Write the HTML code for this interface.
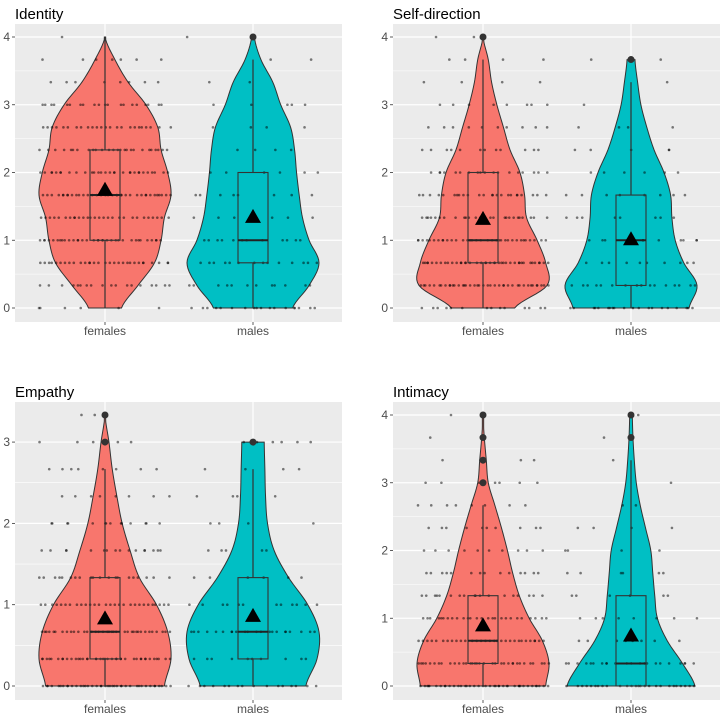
<!DOCTYPE html>
<html><head><meta charset="utf-8">
<style>
html,body{margin:0;padding:0;background:#fff;}
svg{display:block;font-family:"Liberation Sans",Arial,sans-serif;}
</style></head>
<body>
<svg id="chart" width="720" height="718" viewBox="0 0 720 718" xmlns="http://www.w3.org/2000/svg"></svg>
<script>
// ---- data ----
const panelTitles = ["Identity","Self-direction","Empathy","Intimacy"];
const groups = ["females","males"];
const yMaxes = [4,4,3.333,4];
const yTicks = [[0,1,2,3,4],[0,1,2,3,4],[0,1,2,3],[0,1,2,3,4]];
// violin relative half-widths at levels 0,1/3,2/3,...
const violinF = [
 [0.25,0.5,0.75,0.85,0.9,1.0,0.95,0.85,0.8,0.62,0.35,0.15,0.0],
 [0.48,0.97,0.95,0.82,0.66,0.63,0.56,0.41,0.31,0.21,0.13,0.08,0.0],
 [0.9,1.0,0.95,0.78,0.52,0.38,0.26,0.18,0.11,0.06,0.0],
 [0.95,1.0,0.9,0.7,0.55,0.45,0.37,0.28,0.18,0.08,0.05,0.02,0.0]];
const violinM = [
 [0.6,0.85,1.0,0.85,0.75,0.7,0.66,0.63,0.57,0.42,0.3,0.12,0.02],
 [0.88,1.0,0.8,0.67,0.62,0.6,0.5,0.35,0.24,0.15,0.1,0.06],
 [0.8,0.97,1.0,0.83,0.54,0.32,0.22,0.19,0.18,0.17],
 [0.97,0.78,0.55,0.4,0.36,0.33,0.3,0.22,0.14,0.08,0.05,0.03,0.02]];
// boxes: [lowWhisker, q1, median, q3, highWhisker]
const boxF = [[0,1,1.667,2.333,4],[0,0.667,1,2,3.667],[0,0.333,0.667,1.333,2.667],[0,0.333,0.667,1.333,2.667]];
const boxM = [[0,0.667,1,2,3.667],[0,0.333,1,1.667,3.333],[0,0.333,0.667,1.333,2.667],[0,0,0.333,1.333,3.333]];
const outF = [[],[4],[3,3.333],[3,3.333,3.667,4]];
const outM = [[4],[3.667],[3],[3.667,4]];
const meanF = [1.73,1.3,0.82,0.88];
const meanM = [1.33,1.0,0.85,0.73];
// jittered point counts at each level 0,1/3,...
const dotsF = [
 [6,18,30,34,28,36,30,26,24,20,8,7,1],
 [14,40,40,34,26,24,18,12,10,8,4,4,2],
 [40,40,36,28,20,16,14,8,8,5,2],
 [40,34,30,26,18,14,10,10,8,8,4,1,1]];
const dotsM = [
 [18,12,14,12,6,8,6,4,4,5,2,2,1],
 [20,16,10,10,8,8,6,5,4,1,1,3],
 [16,10,22,12,6,5,4,4,4,6],
 [26,22,8,8,6,6,4,4,2,1,1,1,1]];

// ---- layout ----
const NS="http://www.w3.org/2000/svg";
const svg=document.getElementById('chart');
const origins=[[0,0],[378,0],[0,378],[378,378]];
const PL=15,PR=342,PT=24,PB=322,Y0=308;
const COLF="#F8766D",COLM="#00BFC4";
function mk(tag,attrs,parent){const e=document.createElementNS(NS,tag);for(const k in attrs)e.setAttribute(k,attrs[k]);(parent||svg).appendChild(e);return e;}
function hash(i,j,k){let h=(i*374761393+j*668265263+k*2147483647)>>>0;h=(h^(h>>>13))*1274126177>>>0;return ((h^(h>>>16))>>>0)/4294967295;}

function drawPanel(p){
  const [ox,oy]=origins[p];
  const g=mk('g',{transform:`translate(${ox},${oy})`});
  
  
  const topV = yMaxes[p]===4?37:415-378;
  const yUnit=(Y0-topV)/yMaxes[p];
  const ys=v=>Y0-v*yUnit;
  const xc=[105,253];
  const t=mk('text',{x:15,y:19,'font-size':15,fill:'#000'},g);t.textContent=panelTitles[p];
  
  const bg=mk('rect',{x:PL,y:PT,width:PR-PL,height:PB-PT,fill:'#EBEBEB'},g);
  
  const tk=yTicks[p];
  for(let i=0;i<tk.length-1;i++){const y=ys(tk[i]+0.5);mk('line',{x1:PL,x2:PR,y1:y,y2:y,stroke:'#fff','stroke-width':0.6},g);}
  tk.forEach(v=>{const y=ys(v);
    mk('line',{x1:PL,x2:PR,y1:y,y2:y,stroke:'#fff','stroke-width':1.2},g);
    mk('line',{x1:PL-3,x2:PL,y1:y,y2:y,stroke:'#333','stroke-width':0.8},g);
    const l=mk('text',{x:PL-5,y:y+4,'font-size':12,fill:'#4D4D4D','text-anchor':'end'},g);l.textContent=v;
    });
  xc.forEach((x,i)=>{mk('line',{x1:x,x2:x,y1:PT,y2:PB,stroke:'#fff','stroke-width':1.2},g);
    mk('line',{x1:x,x2:x,y1:PB,y2:PB+3,stroke:'#333','stroke-width':0.8},g);
    const l=mk('text',{x:x,y:PB+13,'font-size':12,fill:'#4D4D4D','text-anchor':'middle'},g);l.textContent=groups[i];
    });
  const sets=[[violinF,boxF,outF,meanF,dotsF,COLF],[violinM,boxM,outM,meanM,dotsM,COLM]];
  sets.forEach(([vi,bx,ou,me,dt,col],gi)=>{
    const x0=xc[gi],W=66;
    const w=vi[p];
    const pts=[];
    const n=w.length;
    for(let i=0;i<n-1;i++){
      for(let s=0;s<8;s++){const u=s/8;
        const p0=w[Math.max(i-1,0)],p1=w[i],p2=w[i+1],p3=w[Math.min(i+2,n-1)];
        const val=0.5*((2*p1)+(-p0+p2)*u+(2*p0-5*p1+4*p2-p3)*u*u+(-p0+3*p1-3*p2+p3)*u*u*u);
        pts.push([(i+u)/3,Math.max(val,0.01)]);}
    }
    pts.push([(n-1)/3,Math.max(w[n-1],0.01)]);
    let d=`M${x0-pts[0][1]*W},${ys(0)}`;
    pts.forEach(q=>d+=` L${x0-q[1]*W},${ys(q[0])}`);
    for(let i=pts.length-1;i>=0;i--)d+=` L${x0+pts[i][1]*W},${ys(pts[i][0])}`;
    d+='Z';
    const v=mk('path',{d:d,fill:col,stroke:'#333','stroke-width':1},g);
    
    const c=dt[p];
    c.forEach((cnt,li)=>{for(let k=0;k<cnt;k++){
      const dx=(hash(p*7+gi,li,k)*2-1)*66;
      const dot=mk('circle',{cx:x0+dx,cy:ys(li/3),r:1.3,fill:'#000','fill-opacity':0.5},g);
      
    }});
    const b=bx[p];
    mk('line',{x1:x0,x2:x0,y1:ys(b[0]),y2:ys(b[1]),stroke:'#333','stroke-width':1.2},g);
    mk('line',{x1:x0,x2:x0,y1:ys(b[3]),y2:ys(b[4]),stroke:'#333','stroke-width':1.2},g);
    const r=mk('rect',{x:x0-15,y:ys(b[3]),width:30,height:Math.max(ys(b[1])-ys(b[3]),0.1),fill:'none',stroke:'#333','stroke-width':1.1},g);
    
    mk('line',{x1:x0-15,x2:x0+15,y1:ys(b[2]),y2:ys(b[2]),stroke:'#222','stroke-width':2},g);
    ou[p].forEach(o=>{const oc=mk('circle',{cx:x0,cy:ys(o),r:3.5,fill:'#333'},g);
      });
    const my=ys(me[p]);
    const tri=mk('path',{d:`M${x0},${my-9} L${x0+8},${my+5} L${x0-8},${my+5}Z`,fill:'#000'},g);
    
  });
}
for(let p=0;p<4;p++)drawPanel(p);
</script>
</body></html>
